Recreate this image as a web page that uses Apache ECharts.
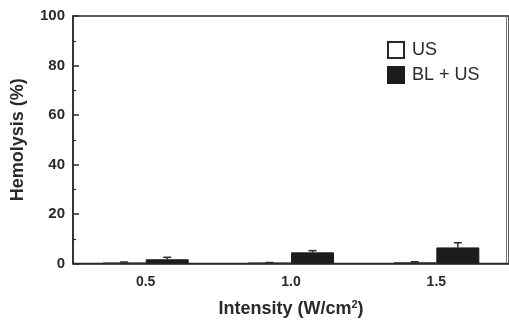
<!DOCTYPE html>
<html>
<head>
<meta charset="utf-8">
<script src="https://cdn.jsdelivr.net/npm/echarts@6/dist/echarts.min.js"></script>
<style>
  html, body { margin: 0; padding: 0; background: #fff; }
  #chart { width: 509px; height: 323px; }
</style>
</head>
<body>
<div id="chart"></div>
<script>
const intensities = ["0.5", "1.0", "1.5"];
const usValues = [0.3, 0.2, 0.4];
const usErrors = [0.3, 0.2, 0.3];
const blUsValues = [1.7, 4.5, 6.5];
const blUsErrors = [0.8, 0.7, 1.9];
const yTicks = [0, 20, 40, 60, 80, 100];

const font = "Liberation Sans, Arial, Helvetica, sans-serif";
const ink = "#2a2a2a";
const barWidth = 43;

function errorSeries(name, values, errors, shift) {
  return {
    name: name + " err",
    type: "custom",
    z: 5,
    data: values.map((v, i) => [i, v, errors[i]]),
    renderItem(params, api) {
      const top = api.coord([api.value(0), api.value(1) + api.value(2)]);
      const mid = api.coord([api.value(0), api.value(1)]);
      const x = top[0] + shift;
      return {
        type: "group",
        children: [
          { type: "line", shape: { x1: x, y1: top[1], x2: x, y2: mid[1] }, style: { stroke: ink, lineWidth: 1.5 } },
          { type: "line", shape: { x1: x - 4, y1: top[1], x2: x + 4, y2: top[1] }, style: { stroke: ink, lineWidth: 1.5 } }
        ]
      };
    }
  };
}

const chart = echarts.init(document.getElementById("chart"));
chart.setOption({
  animation: false,
  backgroundColor: "#fff",
  textStyle: { fontFamily: font },
  grid: { left: 73, right: -4, top: 16, bottom: 56, show: true, borderColor: ink, borderWidth: 1.5, backgroundColor: "transparent" },
  legend: {
    orient: "vertical",
    left: 387,
    top: 41,
    padding: 0,
    icon: "rect",
    itemWidth: 16,
    itemHeight: 16,
    itemGap: 7,
    data: ["US", "BL + US"],
    textStyle: { fontSize: 18, color: ink, fontFamily: font, padding: [0, 0, 0, 3] }
  },
  xAxis: {
    type: "category",
    data: intensities,
    axisLine: { lineStyle: { color: ink, width: 1.5 } },
    axisTick: { show: false },
    axisLabel: { fontSize: 14, fontWeight: "bold", color: ink, margin: 12 },
    name: "Intensity (W/cm{sup|2})",
    nameLocation: "middle",
    nameGap: 36,
    nameTextStyle: {
      fontSize: 18, fontWeight: "bold", color: ink,
      rich: { sup: { fontSize: 11, fontWeight: "bold", color: ink, padding: [0, 0, 8, 0] } }
    }
  },
  yAxis: [
    {
      type: "value",
      min: 0,
      max: 100,
      interval: 20,
      axisLine: { show: true, lineStyle: { color: ink, width: 1.5 } },
      axisTick: { show: true, inside: true, length: 6, lineStyle: { color: ink, width: 1.5 } },
      minorTick: { show: true, splitNumber: 2, length: 3, lineStyle: { color: ink, width: 1.2 } },
      splitLine: { show: false },
      axisLabel: {
        fontSize: 15, fontWeight: "bold", color: ink, margin: 8,
        formatter: (v) => (yTicks.includes(v) ? String(v) : "")
      },
      name: "Hemolysis (%)",
      nameLocation: "middle",
      nameGap: 46,
      nameTextStyle: { fontSize: 18, fontWeight: "bold", color: ink }
    },
    {
      type: "value",
      position: "right",
      offset: -3,
      min: 0,
      max: 100,
      axisLine: { show: true, lineStyle: { color: "#777", width: 1 } },
      axisTick: { show: false },
      axisLabel: { show: false },
      splitLine: { show: false }
    }
  ],
  series: [
    {
      name: "US",
      type: "bar",
      data: usValues,
      barWidth: barWidth,
      barGap: "0%",
      itemStyle: { color: "#fff", borderColor: ink, borderWidth: 1.5 }
    },
    {
      name: "BL + US",
      type: "bar",
      data: blUsValues,
      barWidth: barWidth,
      barGap: "0%",
      itemStyle: { color: "#1c1c1c", borderColor: "#1c1c1c", borderWidth: 1 }
    },
    errorSeries("US", usValues, usErrors, -barWidth / 2),
    errorSeries("BL + US", blUsValues, blUsErrors, barWidth / 2)
  ]
});
</script>
</body>
</html>
